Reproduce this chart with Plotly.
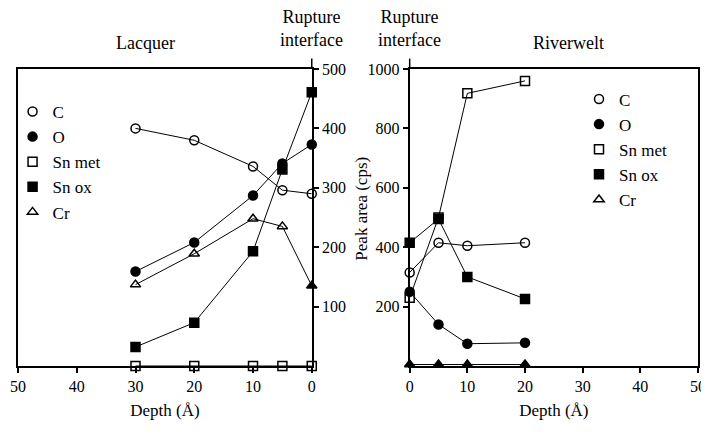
import plotly.graph_objects as go

# Left panel (Lacquer side)
depth_left = [30, 20, 10, 5, 0]
left_C = [400, 380, 336, 296, 290]
left_O = [159, 208, 287, 341, 373]
left_Snmet = [0, 0, 0, 0, 0]
left_Snox = [32, 73, 193, 331, 461]
left_Cr = [137, 189, 248, 235, 135]

# Right panel (Riverwelt side)
depth_right = [0, 5, 10, 20]
right_C = [315, 415, 405, 415]
right_O = [250, 140, 75, 78]
right_Snmet = [230, 500, 918, 960]
right_Snox = [415, 495, 300, 226]
right_Cr = [5, 5, 5, 5]

series_names = ["C", "O", "Sn met", "Sn ox", "Cr"]
symbols = ["circle-open", "circle", "square-open", "square", "triangle-up-open"]
x_ticks = [0, 10, 20, 30, 40, 50]
left_yticks = [100, 200, 300, 400, 500]
right_yticks = [200, 400, 600, 800, 1000]

FONT = "Liberation Serif, DejaVu Serif, Times New Roman, serif"
fig = go.Figure()

left_series = [left_C, left_O, left_Snmet, left_Snox, left_Cr]
right_series = [right_C, right_O, right_Snmet, right_Snox, right_Cr]

def mk(sym):
    return dict(symbol=sym, size=9, color="black", line=dict(width=1.5, color="black"))

# per-point symbol tweaks: markers sitting on the interface axis look filled in the original
left_point_symbols = {
    "Cr": ["triangle-up-open"] * 4 + ["triangle-up"],
}
right_point_symbols = {
    "Cr": ["triangle-up"] * 4,
}

for name, sym, ys in zip(series_names, symbols, left_series):
    m = mk(left_point_symbols.get(name, sym))
    fig.add_trace(go.Scatter(x=depth_left, y=ys, mode="lines+markers", xaxis="x", yaxis="y",
                             line=dict(color="black", width=1), marker=m,
                             showlegend=False, cliponaxis=False))
    fig.add_trace(go.Scatter(x=[None], y=[None], mode="markers", xaxis="x", yaxis="y", name=name,
                             marker=mk(sym), legend="legend"))

for name, sym, ys in zip(series_names, symbols, right_series):
    m = mk(right_point_symbols.get(name, sym))
    fig.add_trace(go.Scatter(x=depth_right, y=ys, mode="lines+markers", xaxis="x2", yaxis="y2",
                             line=dict(color="black", width=1), marker=m,
                             showlegend=False, cliponaxis=False))
    fig.add_trace(go.Scatter(x=[None], y=[None], mode="markers", xaxis="x2", yaxis="y2", name=name,
                             marker=mk(sym), legend="legend2"))

axis_common = dict(showline=True, linecolor="black", linewidth=2, mirror=True, showgrid=False,
                   zeroline=False, ticks="outside", ticklen=5, tickcolor="black", tickwidth=1.5,
                   automargin=False,
                   tickfont=dict(family=FONT, size=16, color="black"))

fig.update_layout(
    width=701, height=425,
    margin=dict(l=10, r=11, t=61, b=67, autoexpand=False),
    paper_bgcolor="white", plot_bgcolor="white",
    font=dict(family=FONT, size=17, color="black"),
    xaxis=dict(domain=[0, 0.432], range=[50, 0], tickvals=x_ticks, anchor="y",
               title=dict(text="Depth (Å)", font=dict(family=FONT, size=17), standoff=10), **axis_common),
    yaxis=dict(domain=[0, 1], range=[0, 500], side="right", tickvals=left_yticks, anchor="x", **axis_common),
    xaxis2=dict(domain=[0.576, 1], range=[0, 50], tickvals=x_ticks, anchor="y2",
                title=dict(text="Depth (Å)", font=dict(family=FONT, size=17), standoff=10), **axis_common),
    yaxis2=dict(domain=[0, 1], range=[0, 1000], side="left", tickvals=right_yticks, anchor="x2", **axis_common),
    legend=dict(x=-0.008, y=0.916, xanchor="left", yanchor="top", bgcolor="rgba(0,0,0,0)",
                font=dict(family=FONT, size=17), itemwidth=30, tracegroupgap=0),
    legend2=dict(x=0.825, y=0.958, xanchor="left", yanchor="top", bgcolor="rgba(0,0,0,0)",
                 font=dict(family=FONT, size=17), itemwidth=30, tracegroupgap=0),
    annotations=[
        dict(text="Lacquer", x=0.187, y=1.0, xref="paper", yref="paper", xanchor="center",
             yanchor="bottom", yshift=14, showarrow=False, font=dict(family=FONT, size=18)),
        dict(text="Rupture<br>interface", x=0.432, y=1.0, xref="paper", yref="paper",
             xanchor="center", yanchor="bottom", yshift=17, showarrow=False,
             font=dict(family=FONT, size=18)),
        dict(text="Rupture<br>interface", x=0.576, y=1.0, xref="paper", yref="paper",
             xanchor="center", yanchor="bottom", yshift=17, showarrow=False,
             font=dict(family=FONT, size=18)),
        dict(text="Riverwelt", x=0.81, y=1.0, xref="paper", yref="paper",
             xanchor="center", yanchor="bottom", yshift=14, showarrow=False, font=dict(family=FONT, size=18)),
        dict(text="Peak area (cps)", x=0.506, y=0.53, xref="paper", yref="paper", textangle=-90,
             showarrow=False, font=dict(family=FONT, size=17)),
    ],
    shapes=[
        dict(type="line", xref="paper", yref="paper", x0=0.432, x1=0.432, y0=1.0, y1=1.035,
             line=dict(color="black", width=1.5)),
        dict(type="line", xref="paper", yref="paper", x0=0.576, x1=0.576, y0=1.0, y1=1.035,
             line=dict(color="black", width=1.5)),
    ],
)

fig.write_html("out.html")
